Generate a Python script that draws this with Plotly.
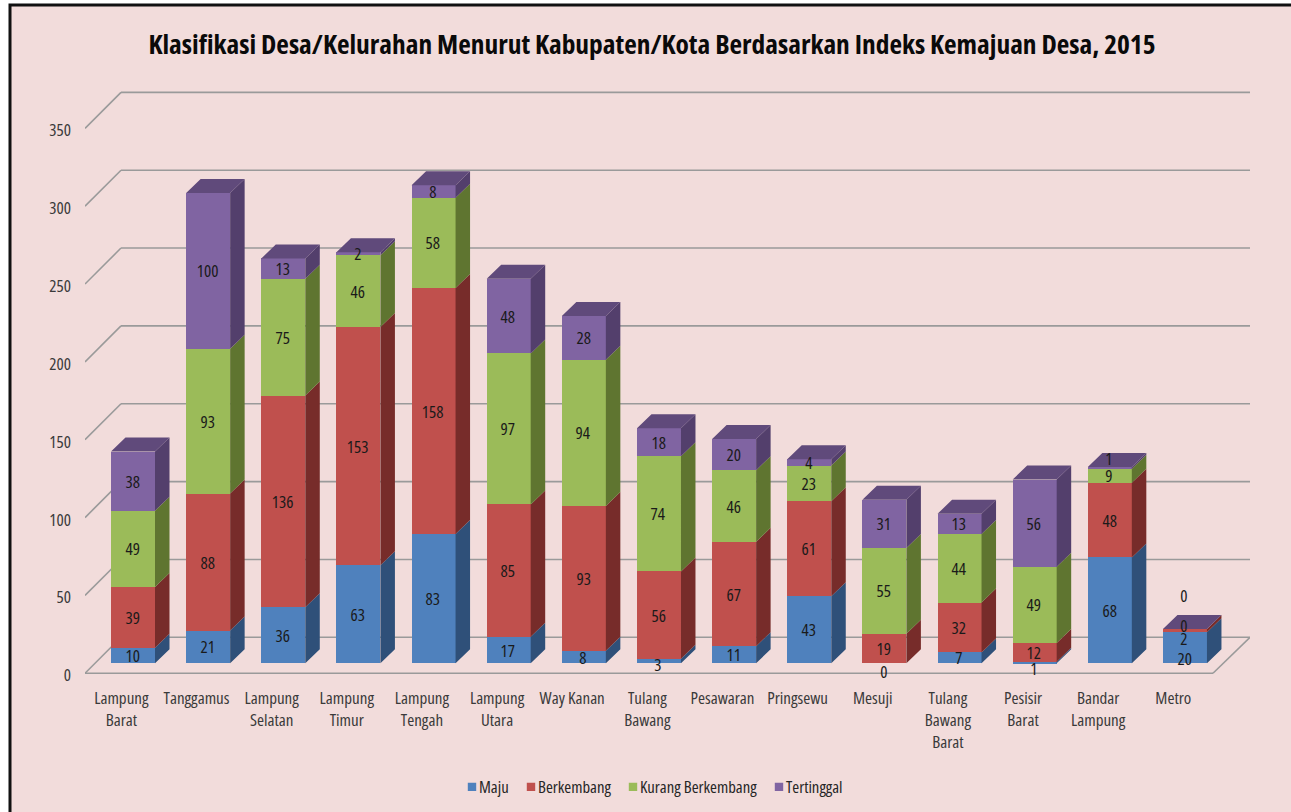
import numpy as np
import plotly.graph_objects as go

categories = ["Lampung Barat", "Tanggamus", "Lampung Selatan", "Lampung Timur", "Lampung Tengah",
              "Lampung Utara", "Way Kanan", "Tulang Bawang", "Pesawaran", "Pringsewu", "Mesuji",
              "Tulang Bawang Barat", "Pesisir Barat", "Bandar Lampung", "Metro"]
tick_labels = ["Lampung<br>Barat", "Tanggamus", "Lampung<br>Selatan", "Lampung<br>Timur", "Lampung<br>Tengah",
               "Lampung<br>Utara", "Way Kanan", "Tulang<br>Bawang", "Pesawaran", "Pringsewu", "Mesuji",
               "Tulang<br>Bawang<br>Barat", "Pesisir<br>Barat", "Bandar<br>Lampung", "Metro"]
maju = [10, 21, 36, 63, 83, 17, 8, 3, 11, 43, 0, 7, 1, 68, 20]
berkembang = [39, 88, 136, 153, 158, 85, 93, 56, 67, 61, 19, 32, 12, 48, 2]
kurang = [49, 93, 75, 46, 58, 97, 94, 74, 46, 23, 55, 44, 49, 9, 0]
tertinggal = [38, 100, 13, 2, 8, 48, 28, 18, 20, 4, 31, 13, 56, 1, 0]
y_ticks = [0, 50, 100, 150, 200, 250, 300, 350]

series = [("Maju", maju, "#4f81bd", "#2f5079", "#3d628f"),
          ("Berkembang", berkembang, "#c0504d", "#772c2a", "#943c3a"),
          ("Kurang Berkembang", kurang, "#9bbb59", "#5f7530", "#7a9440"),
          ("Tertinggal", tertinggal, "#8064a2", "#533f6c", "#604a7b")]

W, H = 1291, 812
FONT = "Open Sans, sans-serif"
BG = "#f2dcdb"
GRID = "#9a9a9a"

L, R, T, B = 85, 1250, 80, 686
X0_PX, STEP_PX = 133.0, 75.14
Y0_PX, UNIT_PX = 663.3, 1.557
BAR_W = 44 / STEP_PX
DX, DY = 14.5 / STEP_PX, 14 / UNIT_PX
FRONT = -(673.3 - Y0_PX) / UNIT_PX
BACK = (Y0_PX - 637.3) / UNIT_PX
LABEL_NUDGE = 2 / UNIT_PX
XL_F, XL_B = (85 - X0_PX) / STEP_PX, (121 - X0_PX) / STEP_PX
XR_F, XR_B = (1213 - X0_PX) / STEP_PX, (1250 - X0_PX) / STEP_PX
LEGEND_TEXT_PX = [479, 538, 640, 786]

x = np.arange(len(categories))
fig = go.Figure()

bottom = np.zeros(len(x))
stack_top = np.sum([np.array(s[1]) for s in series], axis=0)
label_shift = {("Maju", 14): -11, ("Berkembang", 14): -8, ("Kurang Berkembang", 14): 4,
               ("Tertinggal", 14): 34, ("Maju", 10): -8, ("Maju", 12): -6, ("Maju", 7): -4,
               ("Tertinggal", 13): 9}
annotations = []
legend_names = ["legend", "legend2", "legend3", "legend4"]
for k, (name, vals, front, side, top) in enumerate(series):
    vals = np.array(vals)
    fig.add_trace(go.Bar(x=x, y=vals, name=name, width=BAR_W, marker=dict(color=front, line=dict(width=0)),
                         hovertext=categories, legend=legend_names[k]))
    sx, sy = [], []
    for i in x:
        xr = i + BAR_W / 2
        b, t = bottom[i], bottom[i] + vals[i]
        sx += [xr, xr, xr + DX, xr + DX, xr, None]
        sy += [b, t, t + DY, b + DY, b, None]
    fig.add_trace(go.Scatter(x=sx, y=sy, mode="lines", fill="toself", fillcolor=side, line=dict(width=0),
                             showlegend=False, hoverinfo="skip"))
    for i in x:
        annotations.append(dict(x=i - 0.01, y=bottom[i] + vals[i] / 2, text=str(vals[i]), showarrow=False,
                                yshift=label_shift.get((name, int(i)), 0),
                                font=dict(family=FONT, size=17, color="#1a1a1a")))
    bottom = bottom + vals

name, vals, front, side, top = series[-1]
tx, ty = [], []
for i in x:
    xl, xr = i - BAR_W / 2, i + BAR_W / 2
    h = stack_top[i]
    tx += [xl, xr, xr + DX, xl + DX, xl, None]
    ty += [h, h, h + DY, h + DY, h, None]
fig.add_trace(go.Scatter(x=tx, y=ty, mode="lines", fill="toself", fillcolor=top, line=dict(width=0),
                         showlegend=False, hoverinfo="skip"))

shapes = [dict(type="rect", xref="paper", yref="paper", x0=(10 - L) / (R - L), x1=(W + 20 - L) / (R - L),
               y0=(B - H - 20) / (B - T), y1=(B - 5) / (B - T), fillcolor=BG,
               line=dict(color="#111111", width=3), layer="below")]
line = dict(color=GRID, width=1.6)
for v in y_ticks:
    shapes.append(dict(type="line", xref="x", yref="y", x0=XL_F, y0=v + FRONT, x1=XL_B, y1=v + BACK,
                       line=line, layer="below"))
    shapes.append(dict(type="line", xref="x", yref="y", x0=XL_B, y0=v + BACK, x1=XR_B, y1=v + BACK,
                       line=line, layer="below"))
shapes.append(dict(type="line", xref="x", yref="y", x0=XL_F, y0=FRONT, x1=XR_F, y1=FRONT, line=line, layer="below"))
shapes.append(dict(type="line", xref="x", yref="y", x0=XR_F, y0=FRONT, x1=XR_B, y1=BACK, line=line, layer="below"))

legends = {}
for nm, px in zip(legend_names, LEGEND_TEXT_PX):
    legends[nm] = dict(orientation="h", x=(px - 40) / W, xanchor="left", xref="container",
                       y=1 - 787 / H, yanchor="middle", yref="container",
                       font=dict(size=16.7, color="#262626"), itemwidth=30, bgcolor="rgba(0,0,0,0)")

fig.update_layout(
    width=W, height=H, barmode="stack", bargap=0,
    paper_bgcolor="white", plot_bgcolor="rgba(0,0,0,0)",
    margin=dict(l=L, r=W - R, t=T, b=H - B, autoexpand=False),
    font=dict(family=FONT, color="#3a3a3a", size=17),
    title=dict(text="<b>Klasifikasi Desa/Kelurahan Menurut Kabupaten/Kota Berdasarkan Indeks Kemajuan Desa, 2015</b>",
               x=652 / W, xanchor="center", xref="container", y=1 - 44 / H, yanchor="middle", yref="container",
               font=dict(family=FONT, size=27.4, color="#0a0a0a")),
    xaxis=dict(range=[(L - X0_PX) / STEP_PX, (R - X0_PX) / STEP_PX], tickmode="array",
               tickvals=list(x - 0.155), ticktext=tick_labels, showgrid=False, zeroline=False, showline=False,
               ticks="", tickangle=0, tickfont=dict(size=17, color="#3a3a3a")),
    yaxis=dict(range=[(Y0_PX - B) / UNIT_PX, (Y0_PX - T) / UNIT_PX], tickmode="array",
               tickvals=[v + FRONT - LABEL_NUDGE for v in y_ticks], ticktext=[str(v) for v in y_ticks],
               showgrid=False, zeroline=False, showline=False, ticks="", ticklabelstandoff=13,
               tickfont=dict(size=17, color="#3a3a3a")),
    shapes=shapes, annotations=annotations,
    **legends,
)

post = """
document.body.style.margin='0';document.body.style.overflow='hidden';
var st=document.createElement('style');
st.textContent='svg text{font-stretch:75%;} .legendpoints path{transform:translate(33px,0px) scale(.7);}';
document.head.appendChild(st);
"""
fig.write_html("out.html", post_script=post, config=dict(displayModeBar=False))
